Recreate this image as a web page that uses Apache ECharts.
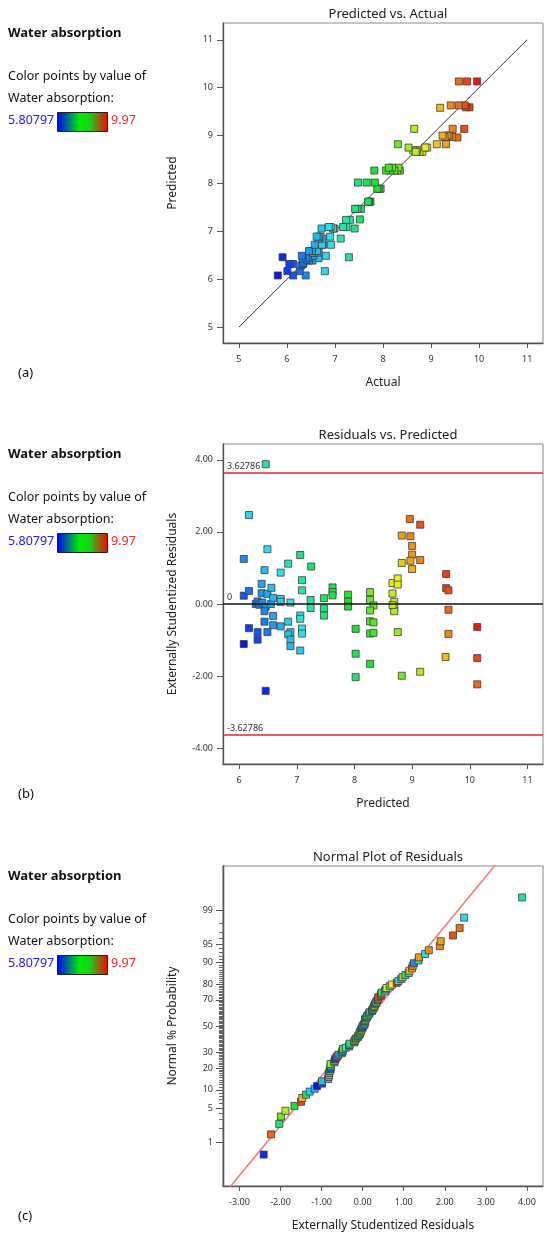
<!DOCTYPE html>
<html>
<head>
<meta charset="utf-8">
<title>Water absorption diagnostics</title>
<script src="https://cdn.jsdelivr.net/npm/echarts@6/dist/echarts.min.js"></script>
<style>
  html, body { margin: 0; padding: 0; background: #fff; }
  #main { width: 550px; height: 1240px; }
</style>
</head>
<body>
<div id="main"></div>
<script>
// runs: model predicted value, externally studentized residual, actual value
var predicted = [
    6.08, 6.08, 6.08, 6.17, 6.17, 6.17, 6.29, 6.32, 6.32, 6.32,
    6.35, 6.39, 6.39, 6.40, 6.46, 6.46, 6.44, 6.49, 6.49, 6.46,
    6.44, 6.44, 6.49, 6.55, 6.56, 6.59, 6.59, 6.59, 6.72, 6.72,
    6.72, 6.72, 6.85, 6.85, 6.89, 6.89, 6.85, 6.89, 6.89, 7.06,
    7.09, 7.09, 7.06, 7.06, 7.09, 7.09, 7.06, 7.25, 7.24, 7.24,
    7.47, 7.47, 7.47, 7.62, 7.62, 7.62, 7.89, 7.89, 7.89, 8.02,
    8.02, 8.02, 8.27, 8.27, 8.33, 8.27, 8.27, 8.33, 8.27, 8.33,
    8.27, 8.66, 8.66, 8.69, 8.69, 8.69, 8.66, 8.75, 8.75, 8.75,
    8.82, 8.82, 8.82, 8.96, 8.97, 9.00, 9.00, 8.97, 9.00, 9.14,
    9.14, 9.14, 9.59, 9.59, 9.63, 9.63, 9.63, 9.58, 10.13, 10.13,
    10.13
];
var residual = [
    1.25, 0.23, -1.11, 2.47, 0.36, -0.67, 0.00, 0.07, -0.78, -0.99,
    -0.02, 0.56, 0.30, 0.04, 3.88, -2.41, 0.94, 1.52, 0.28, -0.08,
    -0.20, -0.49, -0.78, 0.00, 0.45, 0.17, -0.33, -0.59, 0.87, 0.14,
    0.06, -0.62, 1.12, -0.49, 0.04, -0.78, -0.84, -0.99, -1.17, 1.36,
    0.66, 0.38, -0.32, -0.41, -0.68, -0.82, -1.29, 1.04, 0.11, -0.11,
    0.16, -0.12, -0.32, 0.46, 0.33, 0.24, 0.26, 0.06, -0.07, -0.69,
    -1.38, -2.03, 0.33, 0.11, -0.04, -0.18, -0.48, -0.51, -0.82, -0.80,
    -1.66, 0.58, 0.29, 0.06, -0.07, -0.20, -0.03, 0.71, 0.54, -0.78,
    1.90, 1.14, -1.99, 2.36, 1.88, 1.61, 1.37, 1.20, 0.97, 2.20,
    1.22, -1.88, 0.83, 0.44, 0.38, -0.16, -0.83, -1.47, -0.64, -1.50,
    -2.23
];
var actual = [
    6.39, 6.13, 5.81, 6.79, 6.27, 6.01, 6.30, 6.34, 6.13, 6.05,
    6.34, 6.53, 6.46, 6.41, 7.29, 5.91, 6.66, 6.81, 6.55, 6.44,
    6.40, 6.33, 6.31, 6.55, 6.66, 6.63, 6.52, 6.46, 6.92, 6.75,
    6.73, 6.58, 7.12, 6.74, 6.90, 6.70, 6.66, 6.66, 6.62, 7.41,
    7.24, 7.17, 6.99, 6.96, 6.91, 6.87, 6.72, 7.52, 7.31, 7.23,
    7.54, 7.47, 7.42, 7.74, 7.71, 7.69, 7.95, 7.91, 7.88, 7.83,
    7.66, 7.48, 8.35, 8.30, 8.32, 8.24, 8.15, 8.19, 8.06, 8.12,
    7.82, 8.82, 8.76, 8.71, 8.67, 8.63, 8.68, 8.92, 8.88, 8.53,
    9.31, 9.12, 8.31, 9.55, 9.44, 9.38, 9.34, 9.28, 9.24, 9.69,
    9.45, 8.65, 9.80, 9.73, 9.70, 9.58, 9.41, 9.19, 9.96, 9.75,
    9.58
];

var colorMin = 5.80797;
var colorMax = 9.97;
var limitValue = 3.62786;

var ticksA = [5, 6, 7, 8, 9, 10, 11];
var ticksBx = [6, 7, 8, 9, 10, 11];
var ticksBy = [-4, -2, 0, 2, 4];
var ticksCx = [-3, -2, -1, 0, 1, 2, 3, 4];
var probLabels = [1, 5, 10, 20, 30, 50, 70, 80, 90, 95, 99];
var diagLine = [5, 11];
var normLine = [-3.6, 3.6];

var FONT = 'Noto Sans';
var panelTop = [0, 421, 843];
var gLeft = 223, gW = 320, gH = 320, gTop = 23;

// inverse normal cdf (Acklam)
function probit(p) {
    var a = [-39.69683028665376, 220.9460984245205, -275.9285104469687, 138.3577518672690, -30.66479806614716, 2.506628277459239];
    var b = [-54.47609879822406, 161.5858368580409, -155.6989798598866, 66.80131188771972, -13.28068155288572];
    var c = [-0.007784894002430293, -0.3223964580411365, -2.400758277161838, -2.549732539343734, 4.374664141464968, 2.938163982698783];
    var d = [0.007784695709041462, 0.3224671290700398, 2.445134137142996, 3.754408661907416];
    var q, r;
    if (p < 0.02425) {
        q = Math.sqrt(-2 * Math.log(p));
        return (((((c[0]*q+c[1])*q+c[2])*q+c[3])*q+c[4])*q+c[5]) / ((((d[0]*q+d[1])*q+d[2])*q+d[3])*q+1);
    }
    if (p > 1 - 0.02425) {
        q = Math.sqrt(-2 * Math.log(1 - p));
        return -(((((c[0]*q+c[1])*q+c[2])*q+c[3])*q+c[4])*q+c[5]) / ((((d[0]*q+d[1])*q+d[2])*q+d[3])*q+1);
    }
    q = p - 0.5;
    r = q * q;
    return (((((a[0]*r+a[1])*r+a[2])*r+a[3])*r+a[4])*r+a[5])*q / (((((b[0]*r+b[1])*r+b[2])*r+b[3])*r+b[4])*r+1);
}

var n = actual.length;
var dataA = [], dataB = [];
for (var i = 0; i < n; i++) {
    dataA.push([actual[i], predicted[i], actual[i]]);
    dataB.push([predicted[i], residual[i], actual[i]]);
}
// normal plot: sorted residuals against normal scores of their ranks
var order = residual.map(function (v, i) { return i; });
order.sort(function (p, q) { return residual[p] - residual[q]; });
var dataC = order.map(function (idx, rank) {
    return [residual[idx], probit((rank + 0.5) / n), actual[idx]];
});

var probTickZ = probLabels.map(function (p) { return probit(p / 100); });
// every whole percent gets a short tick on the probability axis
var minorPct = [];
for (var k = 1; k <= 99; k++) minorPct.push(k);
var minorTickZ = minorPct.map(function (p) { return probit(p / 100); });

function labelStyle(extra) {
    var s = { fontFamily: FONT, fontSize: 9, color: '#333' };
    for (var key in extra) s[key] = extra[key];
    return s;
}

function makeX(grid, min, max, ticks, name, fmt) {
    return {
        type: 'value', gridIndex: grid, min: min, max: max,
        name: name, nameLocation: 'middle', nameGap: 34,
        nameTextStyle: { fontFamily: FONT, fontSize: 12, color: '#222' },
        axisLine: { show: true, onZero: false, lineStyle: { color: '#555', width: 1.3 } },
        axisTick: { show: true, length: 5, customValues: ticks, lineStyle: { color: '#555' } },
        axisLabel: labelStyle({ margin: 12, customValues: ticks, formatter: fmt }),
        splitLine: { show: false }
    };
}

function makeY(grid, min, max, ticks, labels, name, fmt, tickLen, tickColor) {
    return {
        type: 'value', gridIndex: grid, min: min, max: max, position: 'left',
        name: name, nameLocation: 'middle', nameGap: 44, nameRotate: 90,
        nameTextStyle: { fontFamily: FONT, fontSize: 12, color: '#222' },
        axisLine: { show: true, onZero: false, lineStyle: { color: '#555', width: 1.3 } },
        axisTick: { show: true, length: tickLen || 6, customValues: ticks, lineStyle: { color: tickColor || '#555' } },
        axisLabel: labelStyle({ margin: 10, customValues: labels, formatter: fmt }),
        splitLine: { show: false }
    };
}

var fixed2 = function (v) { return Number(v).toFixed(2); };
var plain = function (v) { return String(Math.round(v)); };
var probFmt = function (v) {
    var best = 0;
    for (var j = 1; j < probTickZ.length; j++) {
        if (Math.abs(probTickZ[j] - v) < Math.abs(probTickZ[best] - v)) best = j;
    }
    return String(probLabels[best]);
};

var grids = panelTop.map(function (t) {
    return { left: gLeft, top: t + gTop, width: gW, height: gH,
             show: true, borderColor: '#8a8a8a', borderWidth: 1, backgroundColor: '#fff' };
});

var titles = ['Predicted vs. Actual', 'Residuals vs. Predicted', 'Normal Plot of Residuals'].map(function (txt, i) {
    return { text: txt, left: gLeft + gW / 2, top: panelTop[i] + 3, textAlign: 'center',
             textStyle: { fontFamily: FONT, fontSize: 13, fontWeight: 'normal', color: '#222' } };
});

var xAxes = [
    makeX(0, 4.67, 11.33, ticksA, 'Actual', plain),
    makeX(1, 5.72, 11.27, ticksBx, 'Predicted', plain),
    makeX(2, -3.40, 4.39, ticksCx, 'Externally Studentized Residuals', fixed2)
];
var yAxes = [
    makeY(0, 4.67, 11.35, ticksA, ticksA, 'Predicted', plain),
    makeY(1, -4.44, 4.44, ticksBy, ticksBy, 'Externally Studentized Residuals', fixed2),
    makeY(2, -3.21, 3.21, minorTickZ, probTickZ, 'Normal % Probability', probFmt, 4, '#666')
];
// longer ticks at the labelled probabilities
yAxes.push({
    type: 'value', gridIndex: 2, min: -3.21, max: 3.21, position: 'left',
    axisLine: { show: true, onZero: false, lineStyle: { color: '#555', width: 1.3 } },
    axisLabel: { show: false }, splitLine: { show: false },
    axisTick: { show: true, length: 7, customValues: probTickZ, lineStyle: { color: '#555' } }
});

var pointStyle = { borderColor: '#3c3c3c', borderWidth: 0.8, opacity: 1 };

var series = [
    { type: 'line', xAxisIndex: 0, yAxisIndex: 0, data: [[diagLine[0], diagLine[0]], [diagLine[1], diagLine[1]]],
      symbol: 'none', lineStyle: { color: '#333', width: 1 }, silent: true, z: 1 },
    { type: 'scatter', xAxisIndex: 0, yAxisIndex: 0, data: dataA, symbol: 'rect', symbolSize: 7,
      itemStyle: pointStyle, z: 3 },
    { type: 'scatter', xAxisIndex: 1, yAxisIndex: 1, data: dataB, symbol: 'rect', symbolSize: 7,
      itemStyle: pointStyle, z: 3,
      markLine: {
          silent: true, symbol: 'none', animation: false,
          data: [
              { yAxis: limitValue, lineStyle: { color: '#e3262a', width: 1.5, type: 'solid' },
                label: { show: true, position: 'insideStartTop', formatter: String(limitValue), fontFamily: FONT, fontSize: 9, color: '#333', distance: [4, 2] } },
              { yAxis: -limitValue, lineStyle: { color: '#e3262a', width: 1.5, type: 'solid' },
                label: { show: true, position: 'insideStartTop', formatter: String(-limitValue), fontFamily: FONT, fontSize: 9, color: '#333', distance: [4, 2] } },
              { yAxis: 0, lineStyle: { color: '#111', width: 1.5, type: 'solid' },
                label: { show: true, position: 'insideStartTop', formatter: '0', fontFamily: FONT, fontSize: 9, color: '#333', distance: [4, 2] } }
          ]
      } },
    { type: 'line', xAxisIndex: 2, yAxisIndex: 2, data: [[normLine[0], normLine[0]], [normLine[1], normLine[1]]],
      symbol: 'none', clip: true, lineStyle: { color: '#f47a7a', width: 1.6 }, silent: true, z: 1 },
    { type: 'scatter', xAxisIndex: 2, yAxisIndex: 2, data: dataC, symbol: 'rect', symbolSize: 7,
      itemStyle: pointStyle, z: 3 }
];

// left-hand legend block for each panel
var graphics = [];
panelTop.forEach(function (t, i) {
    graphics.push({ type: 'text', left: 8, top: t + 27,
        style: { text: 'Water absorption', fontFamily: FONT, fontSize: 13, fontWeight: 'bold', fill: '#111' } });
    graphics.push({ type: 'text', left: 8, top: t + 70,
        style: { text: 'Color points by value of', fontFamily: FONT, fontSize: 12.5, fill: '#111' } });
    graphics.push({ type: 'text', left: 8, top: t + 92,
        style: { text: 'Water absorption:', fontFamily: FONT, fontSize: 12.5, fill: '#111' } });
    graphics.push({ type: 'text', left: 8, top: t + 114,
        style: { text: colorMin.toString(), fontFamily: FONT, fontSize: 12.5, fill: '#2020ff' } });
    graphics.push({ type: 'rect', left: 57, top: t + 112,
        shape: { width: 50, height: 19 },
        style: {
            stroke: '#222', lineWidth: 1,
            fill: new echarts.graphic.LinearGradient(0, 0, 1, 0, [
                { offset: 0, color: '#0000ff' },
                { offset: 0.45, color: '#00ee00' },
                { offset: 0.65, color: '#1ccc1c' },
                { offset: 1, color: '#ff0000' }
            ])
        } });
    graphics.push({ type: 'text', left: 111, top: t + 114,
        style: { text: colorMax.toString(), fontFamily: FONT, fontSize: 12.5, fill: '#ff2020' } });
    graphics.push({ type: 'text', left: 18, top: t + 367,
        style: { text: '(' + 'abc'[i] + ')', fontFamily: FONT, fontSize: 13, fill: '#111' } });
});

var chart = echarts.init(document.getElementById('main'), null, { renderer: 'canvas' });
chart.setOption({
    animation: false,
    backgroundColor: '#fff',
    title: titles,
    grid: grids,
    xAxis: xAxes,
    yAxis: yAxes,
    visualMap: {
        type: 'continuous', show: false, dimension: 2,
        min: colorMin, max: colorMax, seriesIndex: [1, 2, 4],
        inRange: { color: ['#0a14f5', '#28e6f0', '#14e628', '#f0f014', '#f01414'] }
    },
    graphic: graphics,
    series: series
});
</script>
</body>
</html>
